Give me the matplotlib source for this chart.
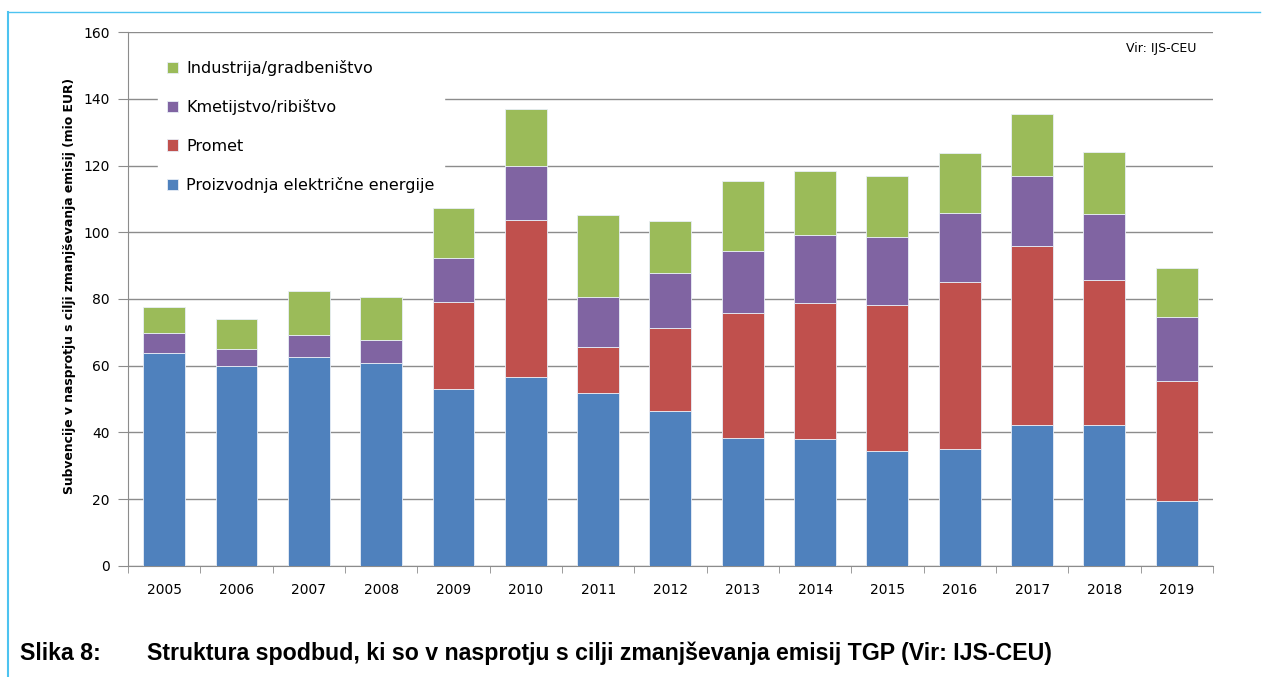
import numpy as np
import matplotlib.pyplot as plt
from matplotlib.lines import Line2D

# --- podatki (odčitano s slike, mio EUR) ---
leta = ['2005', '2006', '2007', '2008', '2009', '2010', '2011', '2012',
        '2013', '2014', '2015', '2016', '2017', '2018', '2019']
elektrika = [63.8, 60.0, 62.6, 60.8, 53.0, 56.6, 51.7, 46.4, 38.2, 38.0, 34.4, 35.0, 42.2, 42.2, 19.4]
promet    = [0.0, 0.0, 0.0, 0.0, 26.0, 47.1, 13.8, 24.9, 37.5, 40.9, 43.7, 50.0, 53.6, 43.5, 35.9]
kmetijstvo = [6.0, 5.0, 6.6, 6.9, 13.3, 16.3, 15.0, 16.6, 18.7, 20.3, 20.6, 20.9, 21.0, 19.7, 19.2]
industrija = [7.8, 9.0, 13.2, 12.9, 15.0, 17.0, 24.6, 15.4, 20.9, 19.3, 18.2, 17.8, 18.5, 18.5, 14.8]

serije = [
    ('Proizvodnja električne energije', elektrika, '#4F81BD'),
    ('Promet', promet, '#C0504D'),
    ('Kmetijstvo/ribištvo', kmetijstvo, '#8064A2'),
    ('Industrija/gradbeništvo', industrija, '#9BBB59'),
]

plt.rcParams['font.family'] = ['DejaVu Sans']

fig = plt.figure(figsize=(12.66, 6.77), dpi=100)
ax = fig.add_axes([0.1011, 0.164, 0.857, 0.7887])

x = np.arange(len(leta))
spodaj = np.zeros(len(leta))
rocaji = []
for ime, vals, barva in serije:
    vals = np.array(vals)
    b = ax.bar(x, vals, 0.58, bottom=spodaj, color=barva,
               edgecolor='#e8eef7', linewidth=0.6, label=ime, zorder=3)
    rocaji.append(b)
    spodaj += vals

ax.set_xlim(-0.5, len(leta) - 0.5)
ax.set_ylim(0, 160)
ax.set_yticks(np.arange(0, 161, 20))
ax.yaxis.grid(True, color='#8c8c8c', linewidth=1.0, zorder=0)
ax.set_axisbelow(True)

ax.set_xticks(x)
ax.set_xticklabels(leta, fontsize=10)
ax.set_xticks(np.arange(-0.5, len(leta), 1), minor=True)
ax.tick_params(axis='x', which='major', length=0, pad=12)
ax.tick_params(axis='x', which='minor', length=5, color='#8c8c8c', direction='out')
ax.tick_params(axis='y', length=7, color='#8c8c8c', labelsize=10, pad=6)

for s in ['top', 'right']:
    ax.spines[s].set_visible(False)
for s in ['left', 'bottom']:
    ax.spines[s].set_color('#8c8c8c')

ax.set_ylabel('Subvencije v nasprotju s cilji zmanjševanja emisij (mio EUR)',
              fontsize=8.9, fontweight='bold')
ax.yaxis.set_label_coords(-0.048, 0.524)

leg = ax.legend(rocaji[::-1], [s[0] for s in serije][::-1],
                loc='upper left', bbox_to_anchor=(0.02, 0.98),
                frameon=True, fancybox=False, edgecolor='white', framealpha=1,
                fontsize=11.5, handlelength=0.7, handleheight=0.7,
                handletextpad=0.5, labelspacing=1.45, borderpad=0.6)
leg.set_zorder(5)

ax.text(0.985, 0.97, 'Vir: IJS-CEU', transform=ax.transAxes,
        ha='right', va='center', fontsize=9)

# okvir (svetlo modra črta)
fig.add_artist(Line2D([0.0065, 0.0065], [0.0, 0.982], color='#4dc3f0',
                      linewidth=1.5, transform=fig.transFigure))
fig.add_artist(Line2D([0.0065, 0.995], [0.982, 0.982], color='#4dc3f0',
                      linewidth=1.0, transform=fig.transFigure))

fig.text(0.016, 0.035, 'Slika 8:', fontsize=16.7, fontweight='bold',
         family='Liberation Sans', va='center')
fig.text(0.116, 0.035,
         'Struktura spodbud, ki so v nasprotju s cilji zmanjševanja emisij TGP (Vir: IJS-CEU)',
         fontsize=16.7, fontweight='bold', family='Liberation Sans', va='center')

fig.savefig('out.png', dpi=100)
